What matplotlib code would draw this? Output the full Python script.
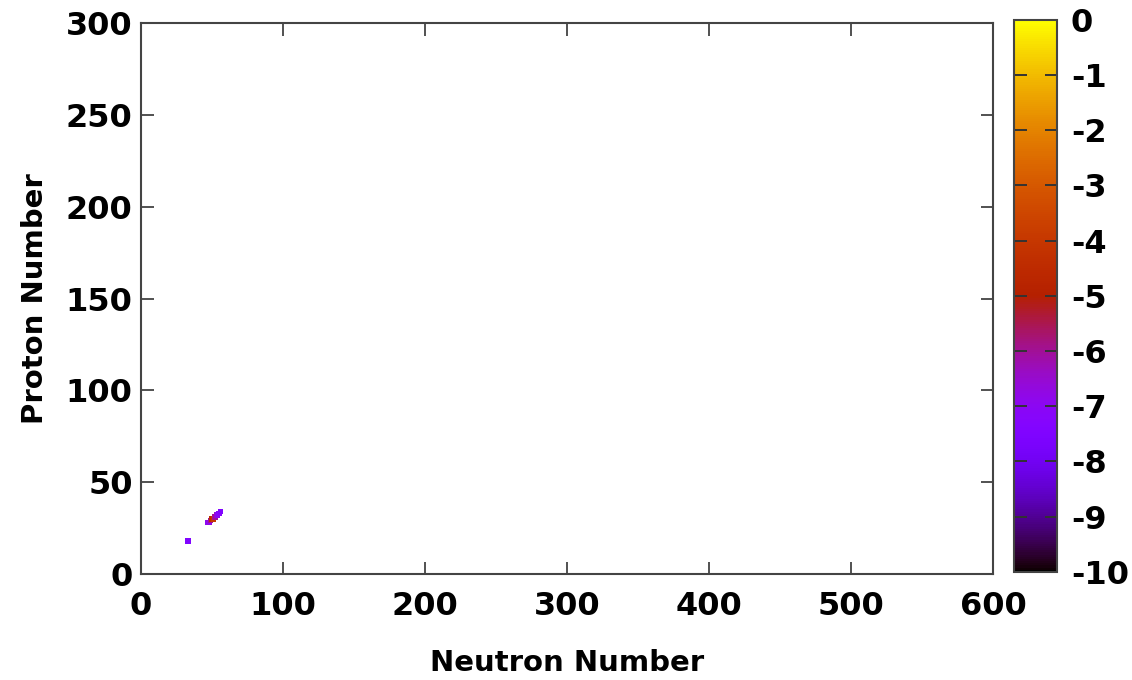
import matplotlib
matplotlib.use("Agg")
import matplotlib.pyplot as plt
import numpy as np
from matplotlib.colors import Normalize

plt.rcParams['font.family'] = ['DejaVu Sans']
plt.rcParams['font.weight'] = 'bold'
plt.rcParams['axes.unicode_minus'] = False

# data: nuclei (neutron number, proton number, log10 value)
neutron = [33, 47, 48, 49, 50, 51, 52, 53, 54, 55, 56]
proton = [18, 28, 28, 29, 30, 30, 31, 32, 32, 33, 34]
logval = [-7.5, -7.0, -6.8, -6.0, -4.5, -4.0, -6.0, -6.5, -7.0, -7.2, -7.5]

xticks = [0, 100, 200, 300, 400, 500, 600]
yticks = [0, 50, 100, 150, 200, 250, 300]
cticks = list(range(0, -11, -1))

fig = plt.figure(figsize=(11.32, 6.80), dpi=100)
ax = fig.add_axes([0.1246, 0.156, 0.7526, 0.810])
cax = fig.add_axes([0.8958, 0.159, 0.0380, 0.8118])

cmap = plt.get_cmap('gnuplot')
norm = Normalize(vmin=-10, vmax=0)

ax.scatter(neutron, proton, c=logval, cmap=cmap, norm=norm, marker='s', s=16, linewidths=0)

ax.set_xlim(0, 600)
ax.set_ylim(0, 300)
ax.set_xticks(xticks)
ax.set_yticks(yticks)
ax.tick_params(direction='in', top=True, right=True, length=9, width=1.2, labelsize=23, colors='#333333', labelcolor='black')
ax.tick_params(axis='x', pad=12)
ax.tick_params(axis='y', pad=6)
for lab in ax.get_xticklabels() + ax.get_yticklabels():
    lab.set_fontweight('bold')
for sp in ax.spines.values():
    sp.set_linewidth(1.5)
    sp.set_color('#444444')
ax.set_xlabel('Neutron Number', fontsize=21, fontweight='bold', labelpad=20)
ax.set_ylabel('Proton Number', fontsize=21, fontweight='bold', labelpad=12)

cb = fig.colorbar(plt.cm.ScalarMappable(norm=norm, cmap=cmap), cax=cax)
cb.set_ticks(cticks)
cb.ax.tick_params(direction='in', left=True, right=True, length=9, width=1.4, labelsize=23, pad=10, colors='#333333', labelcolor='black')
for lab in cb.ax.get_yticklabels():
    lab.set_fontweight('bold')
cb.outline.set_linewidth(1.5)
cb.outline.set_edgecolor('#444444')

fig.savefig('out.png', dpi=100)
